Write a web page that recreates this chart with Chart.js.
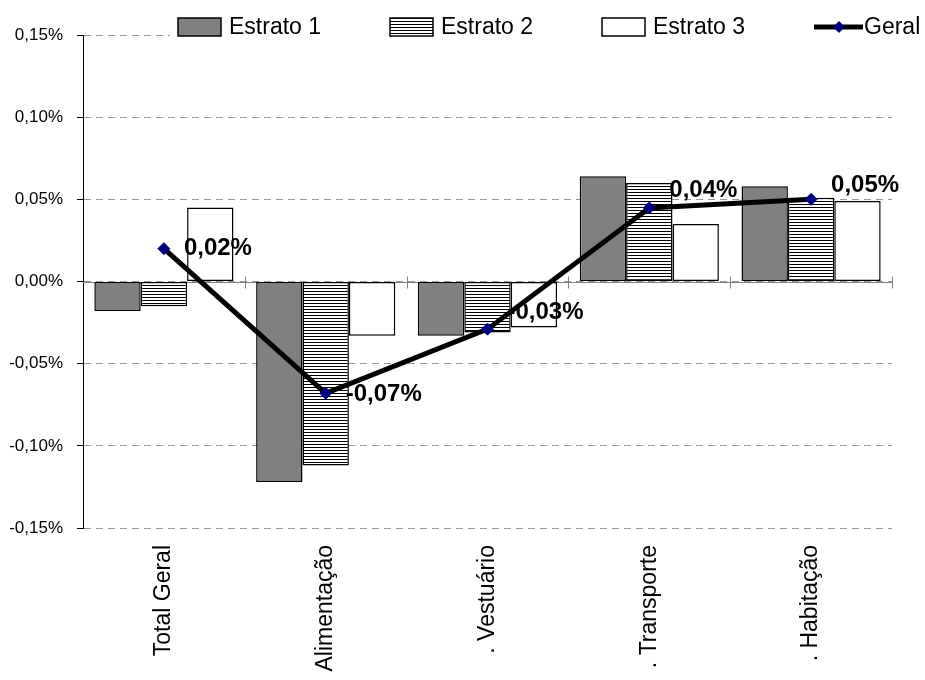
<!DOCTYPE html>
<html lang="pt">
<head>
<meta charset="UTF-8">
<title>Estratos</title>
<script src="https://cdn.jsdelivr.net/npm/chart.js"></script>
<style>
  body { margin: 0; background: #fff; }
  #caixa { width: 925px; height: 680px; }
</style>
</head>
<body>
<div id="caixa"><canvas id="grafico" width="925" height="680"></canvas></div>
<script>
  var categorias = ['Total Geral', 'Alimentação', '. Vestuário', '. Transporte', '. Habitação'];
  var estrato1 = [-0.018, -0.122, -0.033, 0.064, 0.058];
  var estrato2 = [-0.015, -0.112, -0.031, 0.060, 0.051];
  var estrato3 = [0.045, -0.033, -0.028, 0.035, 0.049];
  var geral = [0.020, -0.068, -0.029, 0.0448, 0.050];
  var ticksY = [-0.15, -0.10, -0.05, 0, 0.05, 0.10, 0.15];

  Chart.defaults.font.family = '"Liberation Sans", Arial, sans-serif';
  Chart.defaults.color = '#000';

  var tela = document.getElementById('grafico');
  var ctx = tela.getContext('2d');

  // listras horizontais do Estrato 2
  function listras() {
    var c = document.createElement('canvas');
    c.width = 4; c.height = 3;
    var g = c.getContext('2d');
    g.fillStyle = '#fff'; g.fillRect(0, 0, 4, 3);
    g.fillStyle = '#000'; g.fillRect(0, 0, 4, 1);
    return ctx.createPattern(c, 'repeat');
  }

  function pct(v) {
    return v.toFixed(2).replace('.', ',') + '%';
  }

  // linha do zero com as marcas entre categorias
  var linhaZero = {
    id: 'linhaZero',
    beforeDatasetsDraw(chart) {
      var c = chart.ctx, x = chart.scales.x, y = chart.scales.y, a = chart.chartArea;
      var y0 = Math.round(y.getPixelForValue(0)) + 0.5;
      c.save();
      c.strokeStyle = '#808080';
      c.lineWidth = 1;
      c.beginPath();
      c.moveTo(a.left, y0); c.lineTo(a.right, y0);
      for (var i = 1; i <= categorias.length; i++) {
        var bx = i < categorias.length ? (x.getPixelForValue(i - 1) + x.getPixelForValue(i)) / 2 : a.right;
        bx = Math.round(bx) + 0.5;
        c.moveTo(bx, y0 - 6); c.lineTo(bx, y0 + 6);
      }
      c.stroke();
      c.restore();
    }
  };

  // rótulos da série Geral (desenhados antes da linha, por cima das barras)
  var deslocY = [0, 1, -17, -18, -14];
  var rotulos = {
    id: 'rotulos',
    beforeDatasetDraw(chart, args) {
      if (args.index !== 3) return;
      var c = chart.ctx;
      c.save();
      c.font = 'bold 24px "Liberation Sans", Arial, sans-serif';
      c.fillStyle = '#000';
      c.textAlign = 'left';
      c.textBaseline = 'middle';
      args.meta.data.forEach(function (p, i) {
        c.fillText(pct(geral[i]), p.x + 20, p.y + deslocY[i]);
      });
      c.restore();
    }
  };

  var legenda = {
    id: 'legenda',
    afterDraw(chart) {
      var c = chart.ctx;
      var x0 = 178, passo = 212, cy = 27;
      c.save();
      c.fillStyle = '#fff';
      c.fillRect(170, 8, 755, 30);
      c.font = '23px "Liberation Sans", Arial, sans-serif';
      c.textBaseline = 'middle';
      c.textAlign = 'left';
      chart.data.datasets.forEach(function (ds, i) {
        var x = x0 + i * passo;
        if (ds.type === 'line') {
          c.strokeStyle = '#000';
          c.lineWidth = 5;
          c.beginPath(); c.moveTo(x, cy); c.lineTo(x + 49, cy); c.stroke();
          c.fillStyle = '#000080';
          c.beginPath();
          c.moveTo(x + 25, cy - 6); c.lineTo(x + 31, cy); c.lineTo(x + 25, cy + 6); c.lineTo(x + 19, cy);
          c.closePath(); c.fill();
          c.fillStyle = '#000';
          c.fillText(ds.label, x + 50, cy + 1);
        } else {
          c.fillStyle = ds.backgroundColor;
          c.fillRect(x, cy - 9, 43, 18);
          c.strokeStyle = '#000';
          c.lineWidth = 1.5;
          c.strokeRect(x, cy - 9, 43, 18);
          c.fillStyle = '#000';
          c.fillText(ds.label, x + 51, cy + 1);
        }
      });
      c.restore();
    }
  };

  new Chart(tela, {
    type: 'bar',
    data: {
      labels: categorias,
      datasets: [
        { label: 'Estrato 1', data: estrato1, backgroundColor: '#808080', borderColor: '#000', borderWidth: 1.5, borderSkipped: false, order: 1 },
        { label: 'Estrato 2', data: estrato2, backgroundColor: listras(), borderColor: '#000', borderWidth: 1.5, borderSkipped: false, order: 1 },
        { label: 'Estrato 3', data: estrato3, backgroundColor: '#fff', borderColor: '#000', borderWidth: 1.5, borderSkipped: false, order: 1 },
        {
          type: 'line', label: 'Geral', data: geral, order: 0,
          borderColor: '#000', borderWidth: 5, tension: 0,
          pointStyle: 'rectRot', pointRadius: 6, pointBackgroundColor: '#000080', pointBorderColor: '#000080', pointBorderWidth: 1
        }
      ]
    },
    options: {
      responsive: false,
      animation: false,
      datasets: { bar: { categoryPercentage: 0.86, barPercentage: 1.0 } },
      layout: { padding: { top: 35, right: 33, left: 0, bottom: 0 } },
      plugins: { legend: { display: false }, tooltip: { enabled: false } },
      scales: {
        x: {
          grid: { display: false, drawTicks: false },
          border: { display: false },
          ticks: { autoSkip: false, minRotation: 90, maxRotation: 90, padding: 17, font: { size: 23 } },
          afterFit: function (s) { s.height = 152; }
        },
        y: {
          min: -0.15, max: 0.15,
          afterBuildTicks: function (s) { s.ticks = ticksY.map(function (v) { return { value: v }; }); },
          grid: { color: '#999', tickColor: '#000', tickLength: 6 },
          border: { display: true, color: '#000', width: 1, dash: [7, 5] },
          ticks: { padding: 14, font: { size: 17 }, callback: function (v) { return pct(v); } },
          afterFit: function (s) { s.width = 83; }
        }
      }
    },
    plugins: [linhaZero, rotulos, legenda]
  });
</script>
</body>
</html>
